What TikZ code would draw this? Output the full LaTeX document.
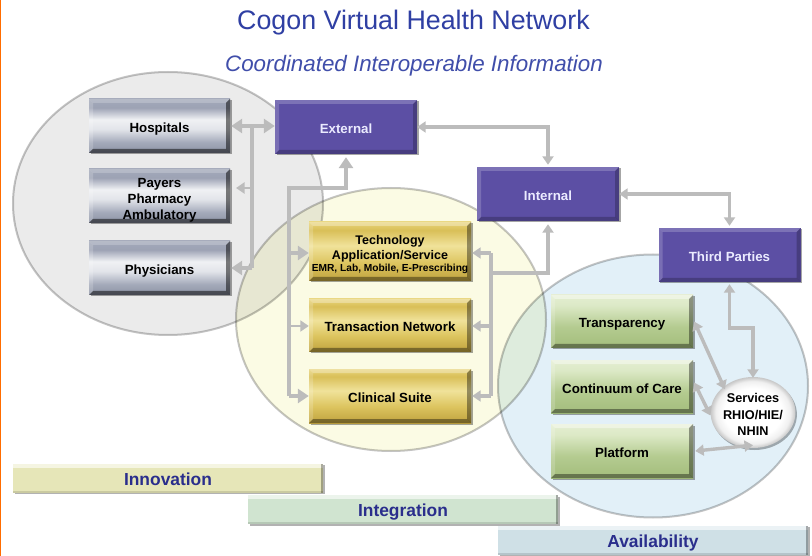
\documentclass[tikz,border=0pt]{standalone}
\usepackage{fontspec}
\setmainfont{Liberation Sans}
\usetikzlibrary{arrows.meta,shadows,calc,shapes.geometric}
\definecolor{conn}{HTML}{BCBCBC}
\definecolor{ttl}{HTML}{2F3FA3}
\definecolor{barink}{HTML}{2A2E8C}
\definecolor{m1}{HTML}{8C92A4}\definecolor{m2}{HTML}{A4AABA}\definecolor{m3}{HTML}{F0F1F4}\definecolor{m4}{HTML}{E2E4EA}\definecolor{m5}{HTML}{9CA2B4}
\pgfdeclareverticalshading{metalsh}{100bp}{color(0bp)=(m1);color(25bp)=(m1);color(35bp)=(m2);color(47bp)=(m4);color(56bp)=(m3);color(67bp)=(m5);color(75bp)=(m2);color(100bp)=(m2)}
\definecolor{g1}{HTML}{BFA23E}\definecolor{g2}{HTML}{DCC45E}\definecolor{g3}{HTML}{F0E29A}\definecolor{g4}{HTML}{D9BF58}\definecolor{g5}{HTML}{E8D47A}
\pgfdeclareverticalshading{goldsh}{100bp}{color(0bp)=(g1);color(25bp)=(g1);color(40bp)=(g2);color(55bp)=(g3);color(68bp)=(g4);color(75bp)=(g5);color(100bp)=(g5)}
\definecolor{v1}{HTML}{A3BD7C}\definecolor{v2}{HTML}{B4CB90}\definecolor{v3}{HTML}{DCE9C6}\definecolor{v4}{HTML}{E4EED2}
\pgfdeclareverticalshading{greensh}{100bp}{color(0bp)=(v1);color(25bp)=(v1);color(45bp)=(v2);color(65bp)=(v3);color(75bp)=(v4);color(100bp)=(v4)}
\pgfdeclareradialshading{ballsh}{\pgfpoint{0bp}{0bp}}{color(0bp)=(white);color(17bp)=(white);color(22bp)=(black!6);color(25bp)=(black!22);color(50bp)=(black!22)}
\definecolor{vio}{HTML}{5C4FA4}
\definecolor{zonegray}{HTML}{EBEBEB}
\definecolor{zoneyel}{HTML}{FBFBE4}
\definecolor{zoneblue}{HTML}{E2F0F8}
\definecolor{zoneline}{HTML}{C4C4C4}
\definecolor{barA}{HTML}{E6E6B8}
\definecolor{barB}{HTML}{D0E4D0}
\definecolor{barC}{HTML}{CFE0E6}
\def\bd{.5}
\newcommand{\strutA}{\rule[-3.5pt]{0pt}{20pt}}
\tikzset{
  x=1pt,y=-1pt,
  box/.style={inner sep=0pt,align=center,text=black,font=\fontsize{13.3}{16}\selectfont\bfseries,
    execute at begin node={\strutA},
    drop shadow={shadow xshift=1.5pt,shadow yshift=-1.5pt,fill=black,opacity=.35},
    path picture={
      \coordinate (SW) at (path picture bounding box.south west);
      \coordinate (NE) at (path picture bounding box.north east);
      \coordinate (NW) at (SW|-NE);
      \coordinate (SE) at (NE|-SW);
      \fill[white,opacity=#1] (NW)--(NE)--([xshift=-4pt,yshift=-4pt]NE)--([xshift=4pt,yshift=-4pt]NW)--cycle;
      \fill[white,opacity=.18] (NW)--(SW)--([xshift=4pt,yshift=4pt]SW)--([xshift=4pt,yshift=-4pt]NW)--cycle;
      \fill[black,opacity=\bd] (NE)--(SE)--([xshift=-4pt,yshift=4pt]SE)--([xshift=-4pt,yshift=-4pt]NE)--cycle;
      \fill[black,opacity=\bd] (SW)--(SE)--([xshift=-4pt,yshift=4pt]SE)--([xshift=4pt,yshift=4pt]SW)--cycle;
    }},
  metal/.style={box=.2,shading=metalsh,minimum width=141pt,minimum height=54pt},
  gold/.style={box=.3,/utils/exec={\def\bd{.38}},shading=goldsh,minimum width=162pt},
  green/.style={box=.4,/utils/exec={\def\bd{.38}},shading=greensh,minimum width=142pt,minimum height=53pt},
  purple/.style={box=.2,/utils/exec={\def\bd{.22}},fill=vio,text=white!92!blue,minimum width=142pt,minimum height=54pt},
  bar/.style={inner sep=0pt,text=barink,font=\fontsize{17.4}{20}\selectfont\bfseries,minimum width=310pt,minimum height=29pt,fill=#1,
    execute at begin node={\rule[-4.5pt]{0pt}{23pt}},
    drop shadow={shadow xshift=1.5pt,shadow yshift=-1.5pt,fill=black,opacity=.3},
    path picture={
      \coordinate (NE) at (path picture bounding box.north east);
      \coordinate (SW) at (path picture bounding box.south west);
      \fill[white,opacity=.6] (SW|-NE) rectangle ([yshift=-4pt]NE);
      \fill[black,opacity=.3] (NE) rectangle ([xshift=-2pt]NE|-SW);
      \fill[black,opacity=.12] (SW) rectangle ([yshift=2pt]NE|-SW);
    }},
  zone/.style={draw=zoneline,line width=2pt,blend mode=multiply},
  conn/.style={draw=conn,line width=3.4pt,line join=miter},
  big/.style={-{Triangle[length=11pt,width=14pt]}},
  bigb/.style={{Triangle[length=11pt,width=14pt]}-{Triangle[length=11pt,width=14pt]}},
  mid/.style={-{Triangle[length=8.5pt,width=11pt]}},
  midb/.style={{Triangle[length=8.5pt,width=11pt]}-{Triangle[length=8.5pt,width=11pt]}},
}
\begin{document}
\begin{tikzpicture}
\useasboundingbox (0,0) rectangle (812,556);
\fill[white] (0,0) rectangle (812,556);
\fill[orange!85!red] (0,0) rectangle (1.2,556);
% zones
\fill[zone,fill=zonegray] (168,203.5) ellipse [x radius=155,y radius=131.5];
\fill[zone,fill=zoneyel] (391,319.5) ellipse [x radius=155,y radius=131.5];
\fill[zone,fill=zoneblue] (653,386) ellipse [x radius=155,y radius=131.5];
% titles
\node[text=ttl,font=\fontsize{26.8}{30}\selectfont] (title) at (413.5,22.5) {Cogon Virtual Health Network};
\node[text=ttl!92!white,font=\fontsize{22.35}{26}\selectfont\itshape] (subtitle) at (414,65.5) {Coordinated Interoperable Information};
% boxes
\node[metal] (hosp) at (159.5,126) {Hospitals};
\node[metal] (pay) at (159.5,196) {\setlength{\tabcolsep}{0pt}\raisebox{14.8pt}[0pt][0pt]{\begin{tabular}[t]{c}Payers\\Pharmacy\\Ambulatory\end{tabular}}};
\node[metal] (phys) at (159.5,268) {Physicians};
\node[purple] (ext) at (346,127) {External};
\node[purple] (int) at (548,194) {Internal};
\node[purple] (third) at (729.5,255) {Third Parties};
\node[gold,minimum height=59pt,font=\fontsize{12.5}{15}\selectfont\bfseries] (tech) at (390,251.5) {\rule{0pt}{16.5pt}Technology\\Application/Service\\[-2.5pt]{\fontsize{10.2}{13}\selectfont EMR, Lab, Mobile, E-Prescribing}};
\node[gold,minimum height=53pt] (trans) at (390,325.5) {Transaction Network};
\node[gold,minimum height=54pt] (clin) at (390,396) {Clinical Suite};
\node[green] (transp) at (622,321.5) {Transparency};
\node[green] (cont) at (622,386.5) {Continuum of Care};
\node[green,minimum height=54pt] (plat) at (622,451) {Platform};
% bars
\node[bar=barA] (inno) at (168,478) {Innovation};
\node[bar=barB] (integ) at (403,509.5) {Integration};
\node[bar=barC] (avail) at (653,540) {Availability};
% coordinates
\coordinate (l1) at (252,126);
\coordinate (l2) at (252,188);
\coordinate (l3) at (252,268);
\coordinate (payend) at (236,188);
\coordinate (t1) at (289,188);
\coordinate (t2) at (289,253);
\coordinate (t3) at (289,326);
\coordinate (t4) at (289,396);
\coordinate (r1) at (491,253);
\coordinate (r2) at (491,326);
\coordinate (r3) at (491,396);
\coordinate (r4) at (491,273);
% left connectors
\path[conn,bigb,draw] ([xshift=1pt]hosp.east) -- (hosp.east -| ext.west);
\draw[conn] (l1) -- (l3);
\draw[conn,line width=2pt,mid] (l2) -- (payend);
\draw[conn,big] (l3) -- ([xshift=1pt]phys.east);
% tech to external
\draw[conn,big] (t4) -- (t1) -- (t1 -| ext.south) -- ([yshift=-3pt]ext.south);
\draw[conn,big] (t2) -- (t2 -| tech.west);
\draw[conn,line width=2pt,mid] (t3) -- (t3 -| trans.west);
\draw[conn,big] (t4) -- (t4 -| clin.west);
% right trunk
\draw[conn] (r1) -- (r3);
\draw[conn,mid] (r1) -- ([xshift=1pt]r1 -| tech.east);
\draw[conn,mid] (r2) -- ([xshift=1pt]r2 -| trans.east);
\draw[conn,mid] (r3) -- ([xshift=1pt]r3 -| clin.east);
\draw[conn,mid] (r4) -- (r4 -| int.south) -- ([yshift=-3pt]int.south);
% upper right
\draw[conn,midb] (ext.east) -- (ext.east -| int.north) -- ([yshift=2pt]int.north);
\draw[conn,midb] (int.east) -- (int.east -| third.north) -- ([yshift=2pt]third.north);
% services
\node[ellipse,inner sep=0pt,minimum width=80pt,minimum height=71pt,shading=ballsh,
  drop shadow={shadow xshift=1.5pt,shadow yshift=-2pt,fill=black,opacity=.3},align=center,font=\fontsize{12.7}{16.2}\selectfont\bfseries] (serv) at (753,412.5) {\rule{0pt}{13pt}Services\\RHIO/HIE/\\NHIN};
% third to services
\coordinate (k1) at (729.5,328);
\coordinate (k2) at (753,328);
\draw[conn,midb] ([yshift=-2pt]third.south) -- (k1) -- (k2) -- ([yshift=-1pt]serv.north);
\draw[conn,midb] ([xshift=1pt]transp.east) -- ([xshift=2pt,yshift=-2pt]serv.north west);
\draw[conn,midb] ([xshift=1pt,yshift=4pt]cont.east) -- ([yshift=-3pt]serv.west);
\draw[conn,midb] ([xshift=2pt]plat.east) -- ([yshift=3pt]serv.south);
\end{tikzpicture}
\end{document}
